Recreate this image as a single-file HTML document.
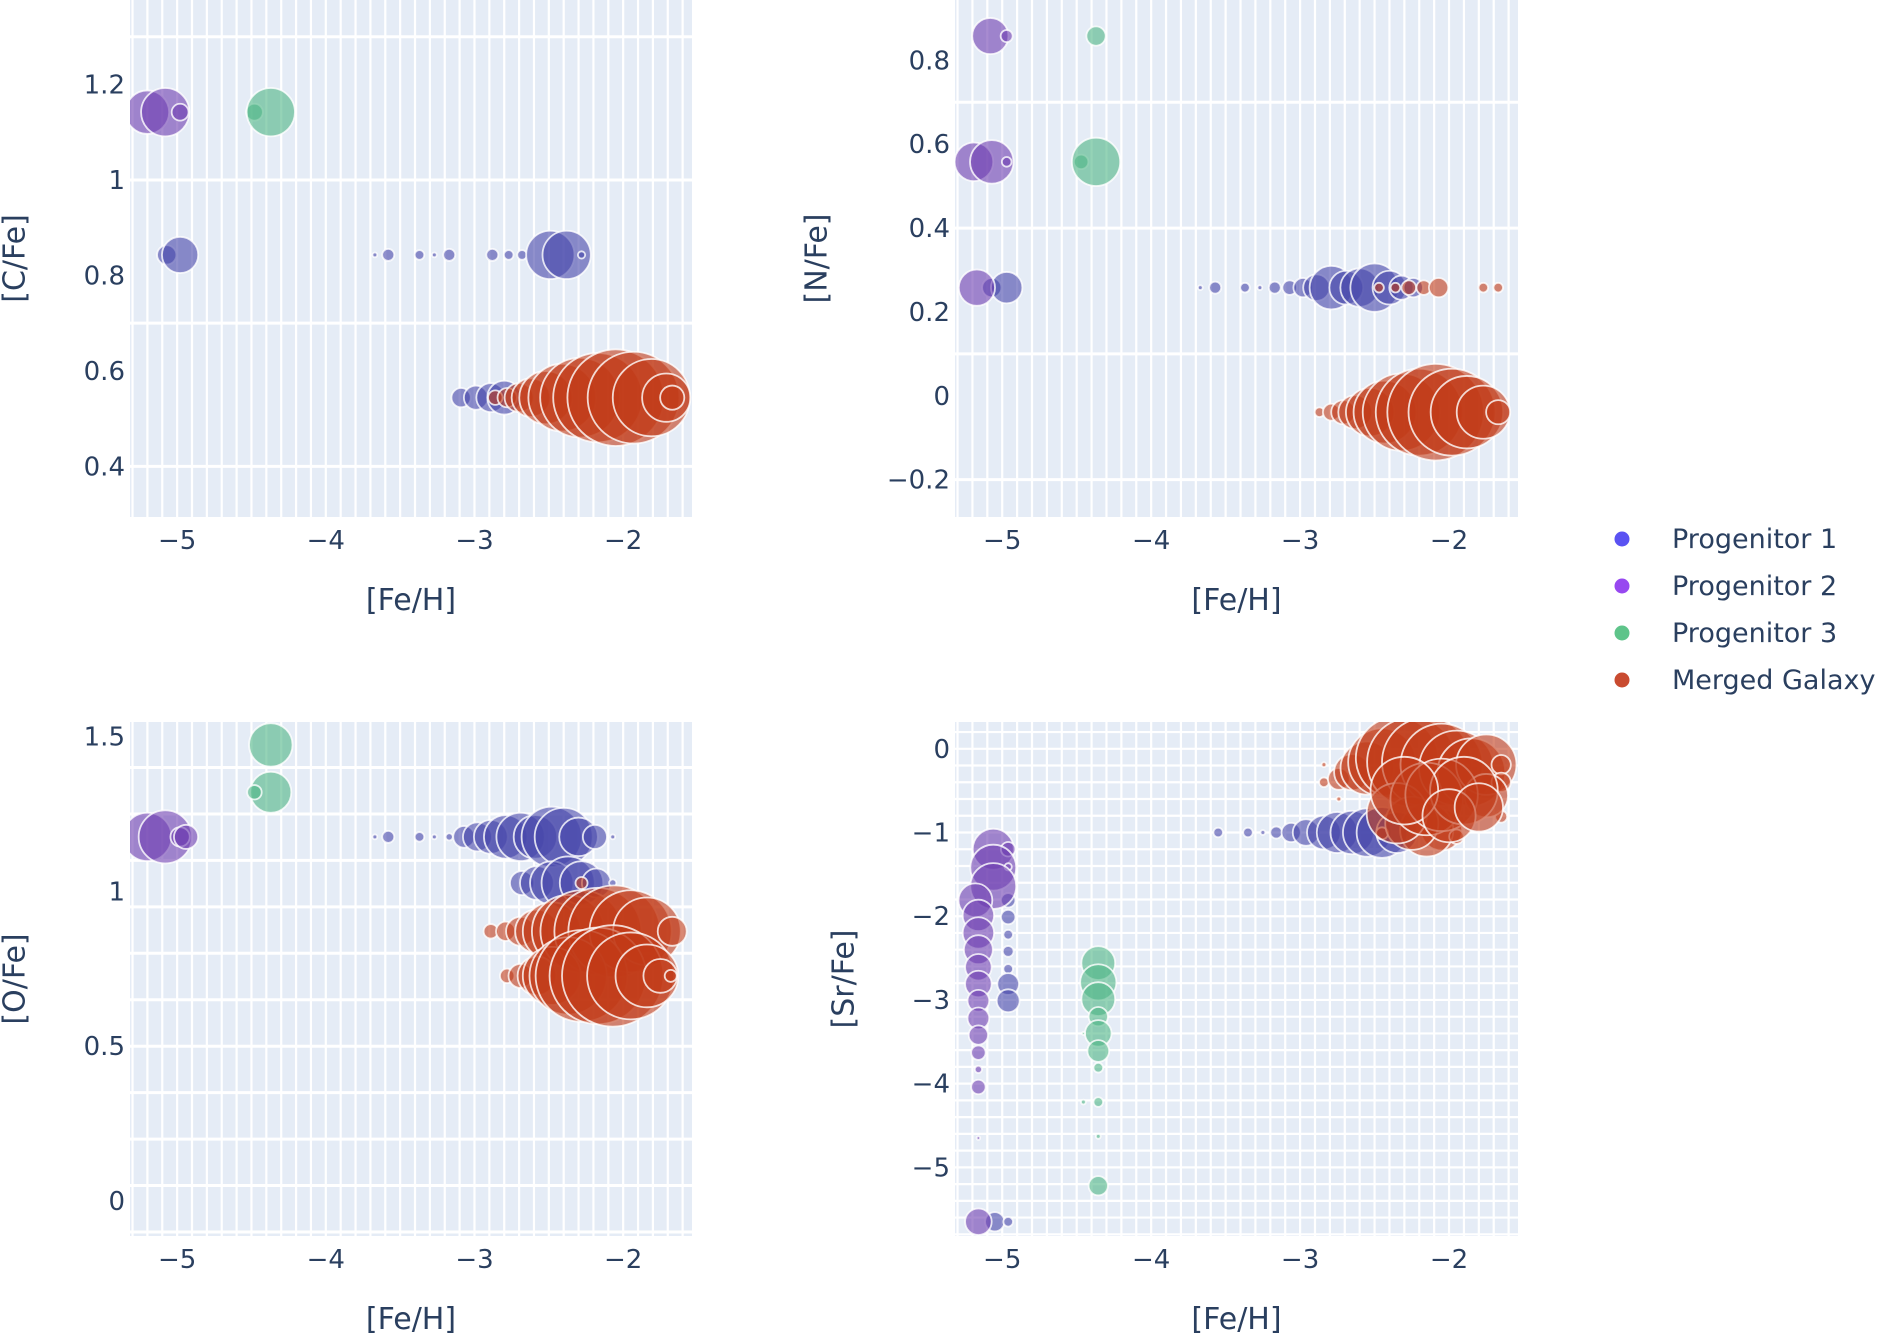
<!DOCTYPE html>
<html><head><meta charset="utf-8">
<style>
html,body{margin:0;padding:0;background:#fff;}
svg{display:block;font-family:"DejaVu Sans","Liberation Sans",sans-serif;}
</style></head>
<body>
<svg id="chart" width="1894" height="1338" viewBox="0 0 1894 1338" xmlns="http://www.w3.org/2000/svg"></svg>
<script>
// ---- data: [Fe/H] values, abundance values, bubble sizes (display radius units) ----
// Panel C/Fe
const cfeP1x=[-5.07,-4.98,-3.67,-3.58,-3.37,-3.27,-3.17,-2.88,-2.77,-2.68,-2.49,-2.38,-2.28,-3.09,-2.99,-2.89,-2.8];
const cfeP1y=[0.843,0.843,0.843,0.843,0.843,0.843,0.843,0.843,0.843,0.843,0.843,0.843,0.843,0.544,0.544,0.544,0.544];
const cfeP1s=[8,15,2,5,4,2,5,5,4,4,20,20,3,8,10,12,14];
const cfeP2x=[-5.2,-5.08,-4.98];
const cfeP2y=[1.142,1.142,1.142];
const cfeP2s=[18,20,7];
const cfeP3x=[-4.48,-4.37];
const cfeP3y=[1.142,1.142];
const cfeP3s=[7,20];
const cfeMx=[-2.86,-2.78,-2.7,-2.62,-2.52,-2.41,-2.29,-2.17,-2.05,-1.93,-1.81,-1.71,-1.67];
const cfeMy=[0.544,0.544,0.544,0.544,0.544,0.544,0.544,0.544,0.544,0.544,0.544,0.544,0.544];
const cfeMs=[6,8,12,16,22,28,33,37,40,38,32,20,10];
// Panel N/Fe
const nfeP1x=[-5.07,-4.97,-3.67,-3.57,-3.37,-3.27,-3.17,-3.07,-2.98,-2.89,-2.79,-2.69,-2.6,-2.5,-2.4,-2.32,-2.24];
const nfeP1y=[0.258,0.258,0.258,0.258,0.258,0.258,0.258,0.258,0.258,0.258,0.258,0.258,0.258,0.258,0.258,0.258,0.258];
const nfeP1s=[8,13,2,5,4,2,5,6,8,11,18,14,16,20,14,10,8];
const nfeP2x=[-5.08,-4.97,-5.19,-5.07,-4.97,-5.17];
const nfeP2y=[0.858,0.858,0.558,0.558,0.558,0.258];
const nfeP2s=[15,5,16,18,4,15];
const nfeP3x=[-4.37,-4.47,-4.37];
const nfeP3y=[0.858,0.558,0.558];
const nfeP3s=[8,6,20];
const nfeMx=[-2.47,-2.36,-2.27,-2.17,-2.07,-1.77,-1.67,-2.87,-2.79,-2.71,-2.63,-2.53,-2.43,-2.32,-2.2,-2.09,-1.98,-1.88,-1.77,-1.67];
const nfeMy=[0.258,0.258,0.258,0.258,0.258,0.258,0.258,-0.039,-0.039,-0.039,-0.039,-0.039,-0.039,-0.039,-0.039,-0.039,-0.039,-0.039,-0.039,-0.039];
const nfeMs=[4,4,6,6,8,4,4,4,7,10,14,20,26,32,36,40,36,30,22,10];
// Panel O/Fe
const ofeP1x=[-3.67,-3.58,-3.37,-3.27,-3.17,-3.07,-2.98,-2.89,-2.79,-2.69,-2.59,-2.48,-2.4,-2.3,-2.19,-2.07,-2.68,-2.58,-2.48,-2.37,-2.28,-2.18,-2.07];
const ofeP1y=[1.176,1.176,1.176,1.176,1.176,1.176,1.176,1.176,1.176,1.176,1.176,1.176,1.176,1.176,1.176,1.176,1.027,1.027,1.027,1.027,1.027,1.027,1.027];
const ofeP1s=[2,5,4,2,3,9,12,14,18,20,18,25,24,16,10,2,10,14,18,22,18,12,3];
const ofeP2x=[-5.2,-5.08,-4.98,-4.94];
const ofeP2y=[1.176,1.176,1.176,1.176];
const ofeP2s=[20,22,8,10];
const ofeP3x=[-4.37,-4.37,-4.48];
const ofeP3y=[1.473,1.32,1.32];
const ofeP3s=[18,17,6];
const ofeMx=[-2.28,-2.89,-2.79,-2.69,-2.58,-2.48,-2.37,-2.28,-2.17,-2.06,-1.95,-1.84,-1.67,-2.78,-2.69,-2.58,-2.48,-2.37,-2.28,-2.17,-2.07,-1.95,-1.84,-1.75,-1.68];
const ofeMy=[1.027,0.871,0.871,0.871,0.871,0.871,0.871,0.871,0.871,0.871,0.871,0.871,0.871,0.727,0.727,0.727,0.727,0.727,0.727,0.727,0.727,0.727,0.727,0.727,0.727];
const ofeMs=[5,6,8,12,18,24,30,34,36,38,34,28,12,6,10,16,24,32,38,40,42,36,26,14,5];
// Panel Sr/Fe
const srP1x=[-4.96,-4.96,-4.96,-4.96,-4.96,-4.96,-4.96,-5.05,-4.96,-3.55,-3.35,-3.25,-3.16,-3.06,-2.96,-2.84,-2.75,-2.65,-2.55,-2.45,-2.35];
const srP1y=[-1.81,-2.01,-2.22,-2.42,-2.63,-2.81,-3.01,-5.65,-5.65,-1.0,-1.0,-1.0,-1.0,-1.0,-1.0,-1.0,-1.0,-1.0,-1.0,-1.0,-1.0];
const srP1s=[6,6,4,4.5,4,9,9.5,8,4,4,4,2,5,8,11,14,17,18,20,21,17];
const srP2x=[-5.06,-4.96,-5.06,-4.96,-5.06,-5.18,-5.16,-5.16,-5.16,-5.16,-5.16,-5.16,-5.16,-5.16,-5.16,-5.16,-5.16,-5.16,-5.16];
const srP2y=[-1.2,-1.2,-1.42,-1.41,-1.64,-1.81,-1.99,-2.2,-2.4,-2.61,-2.81,-3.01,-3.22,-3.42,-3.63,-3.83,-4.04,-4.65,-5.65];
const srP2s=[17,6,19,3,19,14,13,13,12,11,11,9,9,8,6,3,6,1.5,11];
const srP3x=[-4.355,-4.355,-4.355,-4.355,-4.355,-4.355,-4.355,-4.355,-4.355,-4.355,-4.455,-4.455];
const srP3y=[-2.56,-2.79,-2.99,-3.2,-3.4,-3.61,-3.81,-4.22,-4.63,-5.22,-3.4,-4.22];
const srP3s=[14,15,14,8,11,9,4,4,2,8,1.2,2];
const srMx=[-2.84,-2.84,-2.74,-2.74,-2.65,-2.55,-2.45,-2.35,-2.25,-2.15,-2.05,-1.95,-1.85,-1.75,-1.65,-1.65,-1.65,-2.05,-2.15,-1.95,-2.45,-2.25,-2.35,-1.75,-2.15,-2.05,-1.9,-2.3,-2.0,-1.8];
const srMy=[-0.19,-0.4,-0.6,-0.36,-0.28,-0.23,-0.16,-0.11,-0.16,-0.16,-0.19,-0.23,-0.28,-0.19,-0.19,-0.4,-0.81,-0.97,-0.97,-1.05,-1.01,-0.89,-0.77,-0.56,-0.6,-0.55,-0.5,-0.5,-0.8,-0.7];
const srMs=[2,4,2,9,15,22,28,34,37,37,34,31,28,25,8,8,5,17,22,6,5,22,25,18,30,30,28,28,22,20];

const xTickVals=[-5,-4,-3,-2];
const xTickLabels=["−5","−4","−3","−2"];
const cfeTicks=[1.2,1,0.8,0.6,0.4]; const cfeTickLabels=["1.2","1","0.8","0.6","0.4"];
const nfeTicks=[0.8,0.6,0.4,0.2,0,-0.2]; const nfeTickLabels=["0.8","0.6","0.4","0.2","0","−0.2"];
const ofeTicks=[1.5,1,0.5,0]; const ofeTickLabels=["1.5","1","0.5","0"];
const srTicks=[0,-1,-2,-3,-4,-5]; const srTickLabels=["0","−1","−2","−3","−4","−5"];
const seriesNames=["Progenitor 1","Progenitor 2","Progenitor 3","Merged Galaxy"];

const NS="http://www.w3.org/2000/svg";
const svg=document.getElementById('chart');
const colors=["#4646aa","#6e3eb0","#4fb585","#c23a18"];
const legendColors=["#5a52f2","#9748f0","#5ec48a","#c94b30"];
function mk(tag,attrs,parent){const e=document.createElementNS(NS,tag);for(const k in attrs)e.setAttribute(k,attrs[k]);(parent||svg).appendChild(e);return e;}

const panels=[
 {id:'cfe',L:130,R:692,T:0,B:517,x0:-5.317,x1:-1.537,y0:0.294,y1:1.377,title:'[C/Fe]',tx:16,hgrid:{start:0.4,step:0.3},vstep:0.1,ticks:cfeTicks,tl:cfeTickLabels,
  series:[[cfeP1x,cfeP1y,cfeP1s],[cfeP2x,cfeP2y,cfeP2s],[cfeP3x,cfeP3y,cfeP3s],[cfeMx,cfeMy,cfeMs]]},
 {id:'nfe',L:955,R:1518,T:0,B:517,x0:-5.317,x1:-1.537,y0:-0.289,y1:0.944,title:'[N/Fe]',tx:818,hgrid:{start:0.1,step:0.3},vstep:0.1,ticks:nfeTicks,tl:nfeTickLabels,
  series:[[nfeP1x,nfeP1y,nfeP1s],[nfeP2x,nfeP2y,nfeP2s],[nfeP3x,nfeP3y,nfeP3s],[nfeMx,nfeMy,nfeMs]]},
 {id:'ofe',L:130,R:692,T:722,B:1236,x0:-5.317,x1:-1.537,y0:-0.113,y1:1.547,title:'[O/Fe]',tx:16,hgrid:{start:0.5,step:0.15},vstep:0.1,ticks:ofeTicks,tl:ofeTickLabels,
  series:[[ofeP1x,ofeP1y,ofeP1s],[ofeP2x,ofeP2y,ofeP2s],[ofeP3x,ofeP3y,ofeP3s],[ofeMx,ofeMy,ofeMs]]},
 {id:'sr',L:955,R:1518,T:722,B:1236,x0:-5.317,x1:-1.537,y0:-5.82,y1:0.32,title:'[Sr/Fe]',tx:845,hgrid:{start:0,step:0.2},vstep:0.1,ticks:srTicks,tl:srTickLabels,
  series:[[srP1x,srP1y,srP1s],[srP2x,srP2y,srP2s],[srP3x,srP3y,srP3s],[srMx,srMy,srMs]]}
];

panels.forEach(p=>{
 const g=mk('g',{});
 
 
 const xs=v=>p.L+(v-p.x0)/(p.x1-p.x0)*(p.R-p.L);
 const ys=v=>p.B-(v-p.y0)/(p.y1-p.y0)*(p.B-p.T);
 const bg=mk('rect',{x:p.L,y:p.T,width:p.R-p.L,height:p.B-p.T,fill:'#e5ecf6'},g);
 
 
 for(let v=Math.ceil(p.x0/p.vstep)*p.vstep;v<=p.x1+1e-9;v+=p.vstep){mk('line',{x1:xs(v),x2:xs(v),y1:p.T,y2:p.B,stroke:'#fff','stroke-width':2.2},g);}
 const hs=p.hgrid;
 let v0=hs.start; while(v0-hs.step>p.y0) v0-=hs.step;
 for(let v=v0;v<=p.y1;v+=hs.step){const w=p.id==='sr'?2.2:3;mk('line',{x1:p.L,x2:p.R,y1:ys(v),y2:ys(v),stroke:'#fff','stroke-width':w},g);}
 const cp=mk('clipPath',{id:'clip-'+p.id},g);mk('rect',{x:p.L,y:p.T,width:p.R-p.L,height:p.B-p.T},cp);
 const mg=mk('g',{'clip-path':'url(#clip-'+p.id+')'},g);
 p.series.forEach((s,si)=>{
  const sg=mk('g',{},mg);
  
  
  const xv=s[0],yv=s[1],sv=s[2];
  xv.forEach((_,i)=>{
   const c=mk('circle',{cx:xs(xv[i]),cy:ys(yv[i]),r:sv[i]*1.208,fill:colors[si],'fill-opacity':0.6,stroke:'#ffffff','stroke-opacity':0.8,'stroke-width':1.8},sg);
   
   
  });
 });
 xTickVals.forEach((v,i)=>{const t=mk('text',{x:xs(v),y:p.B+32,'text-anchor':'middle','font-size':26,fill:'#2a3f5f'},g);t.textContent=xTickLabels[i];
  });
 p.ticks.forEach((v,i)=>{const t=mk('text',{x:p.L-5,y:ys(v)+9,'text-anchor':'end','font-size':26,fill:'#2a3f5f'},g);t.textContent=p.tl[i];
  });
 const xt=mk('text',{x:(p.L+p.R)/2,y:p.B+93,'text-anchor':'middle','font-size':30,fill:'#2a3f5f'},g);xt.textContent='[Fe/H]';
 
 const cy=(p.T+p.B)/2;
 const yt=mk('text',{x:p.tx,y:cy,'text-anchor':'middle','font-size':30,fill:'#2a3f5f',transform:'rotate(-90 '+p.tx+' '+cy+')','dominant-baseline':'middle'},g);yt.textContent=p.title;
 
});

const lg=mk('g',{});


seriesNames.forEach((n,i)=>{
 const y=539+i*47;
 const e=mk('g',{},lg);
 
 
 mk('circle',{cx:1622,cy:y,r:7.5,fill:legendColors[i]},e);
 const t=mk('text',{x:1672,y:y+9,'font-size':27,fill:'#2a3f5f'},e);t.textContent=n;
});
</script>
</body></html>
